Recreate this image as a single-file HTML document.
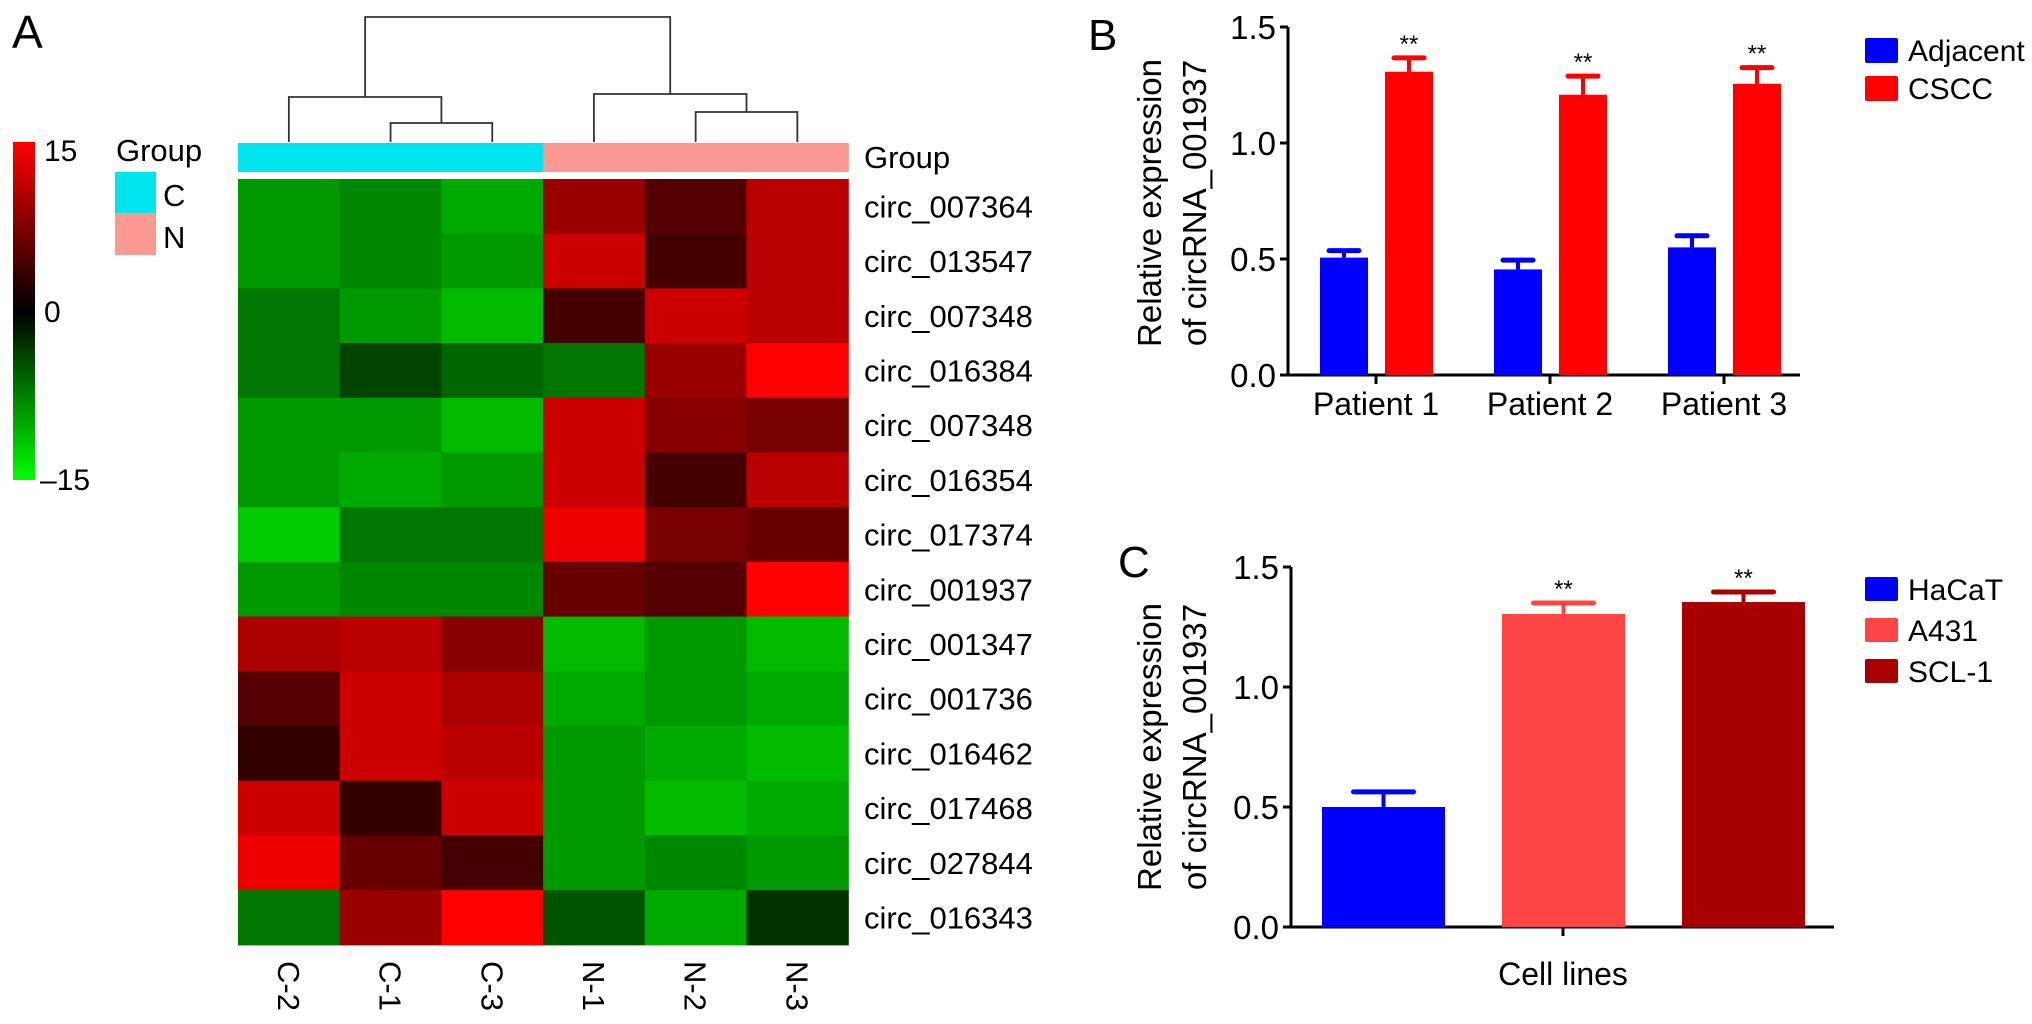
<!DOCTYPE html>
<html><head><meta charset="utf-8">
<style>
html,body{margin:0;padding:0;background:#fff;}
svg{display:block;font-family:"Liberation Sans",Arial,sans-serif;}
</style></head>
<body>
<svg id="fig" width="2032" height="1024" viewBox="0 0 2032 1024" xmlns="http://www.w3.org/2000/svg">
<defs>
<linearGradient id="cbar" x1="0" y1="0" x2="0" y2="1">
<stop offset="0" stop-color="#ff0000"/><stop offset="0.5" stop-color="#000000"/><stop offset="1" stop-color="#00ff00"/>
</linearGradient>
</defs>
<g id="panelA">
<text x="12" y="48" font-size="46">A</text>
<rect x="13" y="142" width="22" height="338" fill="url(#cbar)"/>
<text x="44" y="161" font-size="30">15</text>
<text x="44" y="322" font-size="30">0</text>
<text x="40" y="490" font-size="30">–15</text>
<text x="116" y="161" font-size="31">Group</text>
<rect x="115" y="172" width="41" height="41" fill="#00e5ee"/>
<rect x="115" y="213" width="41" height="42" fill="#fa9a93"/>
<text x="163" y="206" font-size="31">C</text>
<text x="163" y="248" font-size="31">N</text>
<g id="dendro" stroke="#333" stroke-width="1.8" fill="none"></g>
<g id="hm"></g>
</g>
<g id="panelB"></g>
<g id="panelC"></g>
</svg>
<script>
const NS="http://www.w3.org/2000/svg";
function mk(tag,attrs,parent,txt){const e=document.createElementNS(NS,tag);for(const k in attrs)e.setAttribute(k,attrs[k]);if(txt!==undefined)e.textContent=txt;parent.appendChild(e);return e;}

// ---- Heatmap data ----
const hmCols=["C-2","C-1","C-3","N-1","N-2","N-3"];
const hmGroups=["C","C","C","N","N","N"];
const hmRows=["circ_007364","circ_013547","circ_007348","circ_016384","circ_007348","circ_016354","circ_017374","circ_001937","circ_001347","circ_001736","circ_016462","circ_017468","circ_027844","circ_016343"];
const hmValues=[
[-9,-8,-10,9,5,11],
[-9,-8,-9,12,4,11],
[-7,-9,-11,4,12,11],
[-7,-4,-6,-7,9,15],
[-9,-9,-11,12,8,7],
[-9,-10,-9,12,4,11],
[-12,-7,-7,14,7,6],
[-9,-8,-8,6,5,15],
[10,11,8,-11,-9,-11],
[5,12,10,-10,-9,-10],
[3,12,11,-9,-10,-11],
[12,3,12,-9,-11,-10],
[14,6,4,-9,-8,-9],
[-7,9,15,-5,-10,-3]];
const hmColorMin=-15, hmColorMax=15;

const hmX0=238, cellW=101.7, hmY0=179, cellH=54.7;
const colX=i=>hmX0+i*cellW;
const rowY=j=>hmY0+j*cellH;
function heatColor(v){const t=Math.max(-1,Math.min(1,v/hmColorMax));const c=Math.round(Math.abs(t)*255);return t>=0?`rgb(${c},0,0)`:`rgb(0,${c},0)`;}
const hm=document.getElementById('hm');
hmGroups.forEach((g,i)=>{
  const r=mk('rect',{x:colX(i),y:143,width:cellW+0.6,height:29,fill:g==="C"?"#00e5ee":"#fa9a93"},hm);
  
  
});
let gl=mk('text',{x:864,y:168,'font-size':31},hm,"Group");


hmValues.forEach((row,j)=>{
  row.forEach((v,i)=>{
    const r=mk('rect',{x:colX(i),y:rowY(j),width:cellW+0.6,height:cellH+0.6,fill:heatColor(v)},hm);
    
    
  });
  const t=mk('text',{x:864,y:rowY(j)+cellH/2+11,'font-size':31},hm,hmRows[j]);
  
  
});
hmCols.forEach((c,i)=>{
  const cx=colX(i)+cellW/2;
  const t=mk('text',{x:0,y:0,'font-size':31,transform:`translate(${cx-11},961) rotate(90)`},hm,c);
  
  
});
const dg=document.getElementById('dendro');
const cc=i=>colX(i)+cellW/2;
function link(x1,y1,x2,y2,top){mk('path',{d:`M${x1},${y1} V${top} H${x2} V${y2}`},dg);}
const leafY=142;
link(cc(1),leafY,cc(2),leafY,123);
const a1=(cc(1)+cc(2))/2;
link(cc(0),leafY,a1,123,97);
const A=(cc(0)+a1)/2;
link(cc(4),leafY,cc(5),leafY,112);
const b1=(cc(4)+cc(5))/2;
link(cc(3),leafY,b1,112,94);
const B=(cc(3)+b1)/2;
link(A,97,B,94,17);

// ---- Panel B data ----
const bCategories=["Patient 1","Patient 2","Patient 3"];
const bAdjacent=[0.506,0.455,0.55];
const bAdjacentErr=[0.03,0.04,0.05];
const bCSCC=[1.307,1.208,1.255];
const bCSCCErr=[0.06,0.08,0.07];
const bTicks=[0.0,0.5,1.0,1.5];
const bTickLabels=["0.0","0.5","1.0","1.5"];

// ---- Panel C data ----
const cCategories=["HaCaT","A431","SCL-1"];
const cValues=[0.5,1.304,1.354];
const cErr=[0.063,0.046,0.042];
const cColors=["#0000ff","#ff4444","#a80000"];
const cTicks=[0.0,0.5,1.0,1.5];
const cTickLabels=["0.0","0.5","1.0","1.5"];

function axisY(g,x,y0,pxPerUnit,ticks,labels,name){
  const yv=v=>y0-v*pxPerUnit;
  let l=mk('line',{x1:x,y1:yv(1.5),x2:x,y2:y0+1,stroke:'#000','stroke-width':3},g);
  
  
  ticks.forEach((t,i)=>{
    mk('line',{x1:x-8,y1:yv(t),x2:x,y2:yv(t),stroke:'#000','stroke-width':3},g);
    const tx=mk('text',{x:x-12,y:yv(t)+12,'font-size':33,'text-anchor':'end'},g,labels[i]);
    
    
  });
  return yv;
}
function errBar(g,cx,yTop,yErr,w,color){
  mk('line',{x1:cx,y1:yTop,x2:cx,y2:yErr,stroke:color,'stroke-width':4},g);
  mk('line',{x1:cx-w/2,y1:yErr,x2:cx+w/2,y2:yErr,stroke:color,'stroke-width':5,'stroke-linecap':'round'},g);
}
function ytitle(g,cy,name){
  const t=mk('text',{x:0,y:0,'font-size':33,'text-anchor':'middle',transform:`translate(1161,${cy}) rotate(-90)`},g,"Relative expression");
  
  
  const t2=mk('text',{x:0,y:0,'font-size':33,'text-anchor':'middle',transform:`translate(1206,${cy}) rotate(-90)`},g,"of circRNA_001937");
  
  
}

// Panel B draw
(function(){
  const g=document.getElementById('panelB');
  let L=mk('text',{x:1088,y:50,'font-size':44},g,"B");
  
  
  const x0=1288,y0=375,ppu=232;
  const yv=axisY(g,x0,y0,ppu,bTicks,bTickLabels,'b');
  let xa=mk('line',{x1:x0,y1:y0,x2:1800,y2:y0,stroke:'#000','stroke-width':3},g);
  
  
  ytitle(g,203,'b');
  const gx=i=>1376+i*174, bw=48;
  bCategories.forEach((c,i)=>{
    const cx=gx(i);
    const xb=cx-56, xr=cx+9;
    let r=mk('rect',{x:xb,y:yv(bAdjacent[i]),width:bw,height:y0-yv(bAdjacent[i]),fill:'#0000ff'},g);
    
    
    errBar(g,xb+bw/2,yv(bAdjacent[i]),yv(bAdjacent[i]+bAdjacentErr[i]),30,'#0000ff');
    let r2=mk('rect',{x:xr,y:yv(bCSCC[i]),width:bw,height:y0-yv(bCSCC[i]),fill:'#ff0000'},g);
    
    
    errBar(g,xr+bw/2,yv(bCSCC[i]),yv(bCSCC[i]+bCSCCErr[i]),30,'#ff0000');
    let s=mk('text',{x:xr+bw/2,y:yv(bCSCC[i]+bCSCCErr[i])-6,'font-size':24,'text-anchor':'middle'},g,"**");
    
    
    mk('line',{x1:cx,y1:y0,x2:cx,y2:y0+9,stroke:'#000','stroke-width':3},g);
    let t=mk('text',{x:cx,y:415,'font-size':32,'text-anchor':'middle'},g,c);
    
    
  });
  let s1=mk('rect',{x:1865,y:38,width:33,height:25,fill:'#0000ff',rx:2},g);
  
  
  let l1=mk('text',{x:1908,y:61,'font-size':30},g,"Adjacent");
  
  
  let s2=mk('rect',{x:1865,y:76,width:33,height:25,fill:'#ff0000',rx:2},g);
  
  
  let l2=mk('text',{x:1908,y:99,'font-size':30},g,"CSCC");
  
  
})();

// Panel C draw
(function(){
  const g=document.getElementById('panelC');
  let L=mk('text',{x:1118,y:577,'font-size':44},g,"C");
  
  
  const x0=1291,y0=927,ppu=240;
  const yv=axisY(g,x0,y0,ppu,cTicks,cTickLabels,'c');
  let xa=mk('line',{x1:x0,y1:y0,x2:1834,y2:y0,stroke:'#000','stroke-width':3},g);
  
  
  ytitle(g,747,'c');
  const bx=i=>1322+i*180, bw=123;
  cCategories.forEach((c,i)=>{
    let r=mk('rect',{x:bx(i),y:yv(cValues[i]),width:bw,height:y0-yv(cValues[i]),fill:cColors[i]},g);
    
    
    errBar(g,bx(i)+bw/2,yv(cValues[i]),yv(cValues[i]+cErr[i]),60,cColors[i]);
    if(i>0){
      let s=mk('text',{x:bx(i)+bw/2,y:yv(cValues[i]+cErr[i])-6,'font-size':24,'text-anchor':'middle'},g,"**");
      
      
    }
    let sw=mk('rect',{x:1865,y:577+i*41,width:33,height:24,fill:cColors[i],rx:2},g);
    
    
    let lt=mk('text',{x:1908,y:600+i*41,'font-size':30},g,c);
    
    
  });
  mk('line',{x1:1563,y1:y0,x2:1563,y2:y0+9,stroke:'#000','stroke-width':3},g);
  let t=mk('text',{x:1563,y:985,'font-size':32,'text-anchor':'middle'},g,"Cell lines");
  
  
})();
</script>
</body></html>
